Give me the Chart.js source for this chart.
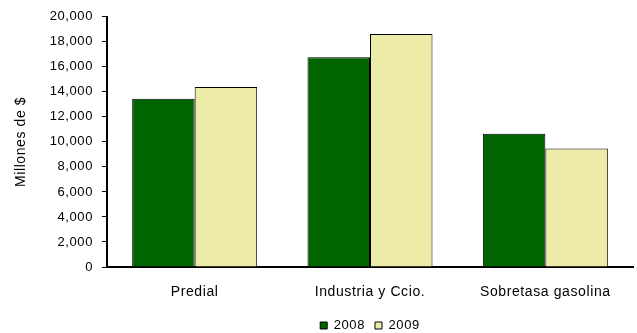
<!DOCTYPE html>
<html>
<head>
<meta charset="utf-8">
<script src="https://cdn.jsdelivr.net/npm/chart.js@4/dist/chart.umd.min.js"></script>
<style>
  html, body { margin: 0; padding: 0; background: #fff; }
  #wrap { width: 637px; height: 333px; }
</style>
</head>
<body>
<div id="wrap"><canvas id="revChart" width="637" height="333"></canvas></div>
<script>
var categories = ['Predial', 'Industria y Ccio.', 'Sobretasa gasolina'];
var values2008 = [13450, 16770, 10660];
var values2009 = [14380, 18620, 9470];
var yTicks = [0, 2000, 4000, 6000, 8000, 10000, 12000, 14000, 16000, 18000, 20000];

Chart.defaults.font.family = '"Liberation Sans", Arial, sans-serif';
Chart.defaults.color = '#000';

// the original text is drawn a bit wider than plain Arial
var spacingPlugin = {
  id: 'spacing',
  beforeLayout: function(chart) { chart.ctx.letterSpacing = '0.6px'; },
  beforeDraw: function(chart) { chart.ctx.letterSpacing = '0.6px'; }
};

var ctx = document.getElementById('revChart').getContext('2d');
ctx.letterSpacing = '0.6px';

var myChart = new Chart(ctx, {
  type: 'bar',
  data: {
    labels: categories,
    datasets: [{
      label: '2008',
      backgroundColor: 'rgb(0, 100, 0)',
      borderColor: '#000',
      borderWidth: 1,
      data: values2008
    }, {
      label: '2009',
      backgroundColor: 'rgb(236, 236, 168)',
      borderColor: '#000',
      borderWidth: 1,
      data: values2009
    }]
  },
  plugins: [spacingPlugin],
  options: {
    responsive: false,
    animation: false,
    devicePixelRatio: 1,
    layout: {
      padding: { left: 0, right: 4, top: 15, bottom: 0 }
    },
    datasets: {
      bar: { categoryPercentage: 0.713, barPercentage: 1 }
    },
    plugins: {
      legend: {
        position: 'bottom',
        fullSize: false,
        maxHeight: 24,
        labels: {
          boxWidth: 7,
          boxHeight: 7,
          padding: 10,
          font: { size: 13 },
          color: '#000'
        }
      },
      tooltip: { enabled: false }
    },
    scales: {
      x: {
        grid: { display: false, drawTicks: false },
        border: { color: '#000', width: 2 },
        ticks: { padding: 17, font: { size: 14 }, color: '#000' },
        afterFit: function(scale) { scale.height = 42; }
      },
      y: {
        min: 0,
        max: 20000,
        afterBuildTicks: function(scale) {
          scale.ticks = yTicks.map(function(v) { return { value: v }; });
        },
        grid: { drawOnChartArea: false, tickLength: 5, color: '#000', tickWidth: 1 },
        border: { color: '#000', width: 2 },
        ticks: {
          padding: 9,
          font: { size: 13 },
          color: '#000',
          callback: function(v) { return Number(v).toLocaleString('en-US'); }
        },
        title: {
          display: true,
          text: 'Millones de $',
          font: { size: 14 },
          color: '#000',
          padding: { top: 13, bottom: 0 }
        },
        afterFit: function(scale) { scale.width = 107; }
      }
    }
  }
});
</script>
</body>
</html>
